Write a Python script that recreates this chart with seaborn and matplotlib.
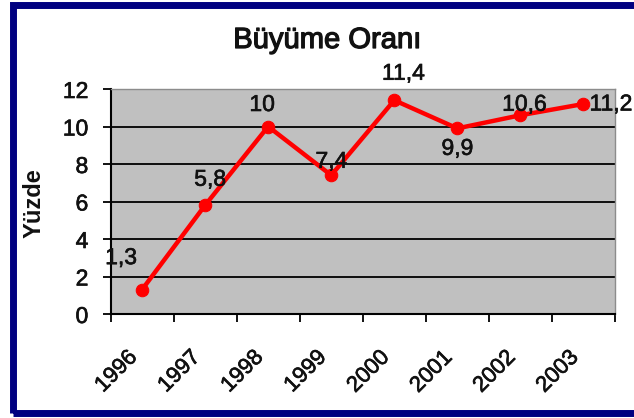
import numpy as np
import pandas as pd
import matplotlib
matplotlib.use("Agg")
import matplotlib.pyplot as plt
import matplotlib.transforms as mtransforms
import matplotlib.patheffects as pe
from matplotlib.patches import Rectangle
import seaborn as sns

years = ["1996", "1997", "1998", "1999", "2000", "2001", "2002", "2003"]
values = [1.3, 5.8, 10.0, 7.4, 11.4, 9.9, 10.6, 11.2]
value_labels = ["1,3", "5,8", "10", "7,4", "11,4", "9,9", "10,6", "11,2"]
y_ticks = [0, 2, 4, 6, 8, 10, 12]
title = "Büyüme Oranı"
ylabel = "Yüzde"

sns.set_theme(style="white")
plt.rcParams['font.family'] = ['Liberation Sans', 'DejaVu Sans']

W, H = 634, 418
fig = plt.figure(figsize=(W / 100, H / 100), dpi=100)
fig.patch.set_facecolor("white")

thick = [pe.withStroke(linewidth=0.45, foreground="#111111")]

ax = fig.add_axes([110.5 / W, (H - 314) / H, (615 - 110.5) / W, (314 - 89) / H])
ax.set_facecolor("#C0C0C0")

df = pd.DataFrame({"pos": np.arange(len(years)), "value": values})
for yv in y_ticks[1:-1]:
    ax.axhline(yv, color="black", lw=1.3, zorder=1)

sns.lineplot(data=df, x="pos", y="value", ax=ax, color="#FF0000", lw=3.2,
             marker="o", markersize=9, markeredgecolor="#FF0000", zorder=3)

ax.set_xlim(-0.5, len(years) - 0.5)
ax.set_ylim(0, 12)
ax.set_xlabel("")
ax.set_ylabel("")

# category boundaries as major ticks, labels at centers as minor ticks
ax.set_xticks(np.arange(-0.5, len(years), 1.0))
ax.set_xticklabels([])
ax.set_xticks(np.arange(len(years)), minor=True)
ax.set_xticklabels(years, minor=True, rotation=45, ha="right", va="center",
                   rotation_mode="anchor", fontsize=16, color="#111111")
ax.tick_params(axis="x", which="major", length=6, width=1.3, color="black",
               direction="out", bottom=True)
ax.tick_params(axis="x", which="minor", length=0, pad=29, bottom=True)
shift = mtransforms.ScaledTranslation(-8 / 100, 0, fig.dpi_scale_trans)
for lab in ax.get_xticklabels(minor=True):
    lab.set_transform(lab.get_transform() + shift)
    lab.set_path_effects(thick)

ax.set_yticks(y_ticks)
ax.set_yticklabels([str(v) for v in y_ticks], fontsize=16.5, color="#111111")
for lab in ax.get_yticklabels():
    lab.set_path_effects(thick)
ax.tick_params(axis="y", length=6, width=1.3, color="black", direction="out",
               pad=10, left=True)

for s in ["left", "bottom"]:
    ax.spines[s].set_color("black")
    ax.spines[s].set_linewidth(1.5)
for s in ["top", "right"]:
    ax.spines[s].set_color("#8C8C8C")
    ax.spines[s].set_linewidth(1.0)

offsets = [(-21, 32), (5, 26), (-6, 22), (0, 14), (9, 27), (0, -20), (4, 11), (6, 0)]
for i, (lab, v) in enumerate(zip(value_labels, values)):
    dx, dy = offsets[i]
    ha = "left" if i == len(values) - 1 else "center"
    ax.annotate(lab, (i, v), xytext=(dx, dy), textcoords="offset pixels",
                ha=ha, va="center", fontsize=16.5, color="#111111", zorder=5,
                annotation_clip=False, path_effects=thick)

fig.text(327 / W, 1 - 48 / H, title, ha="center", va="baseline",
         fontsize=21, color="#111111", path_effects=[pe.withStroke(linewidth=0.9, foreground="#111111")])
fig.text(34 / W, 1 - 203 / H, ylabel, ha="center", va="center",
         rotation=90, fontsize=17, fontweight="bold", color="#111111")

fig.patches.append(Rectangle((12.5 / W, (H - 412.5) / H), 1.2, (412.5 - 5) / H,
                             transform=fig.transFigure, fill=False,
                             edgecolor="#000080", lw=5, zorder=10))

fig.savefig("out.png", dpi=100)
